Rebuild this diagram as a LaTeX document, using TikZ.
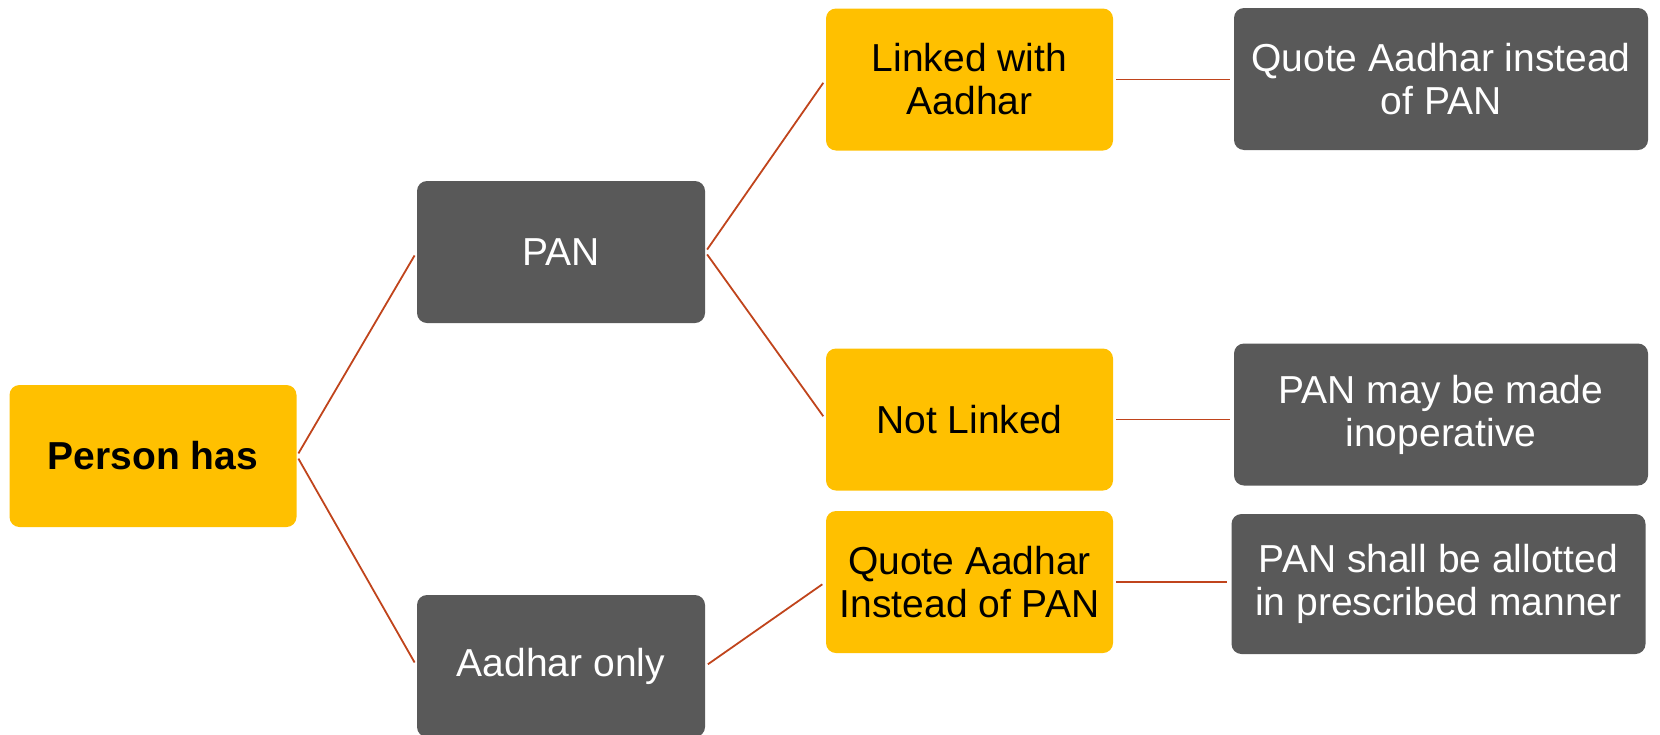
\documentclass[tikz,border=0pt]{standalone}
\usepackage{fontspec}
\setmainfont{Liberation Sans}
\definecolor{boxyellow}{HTML}{FFC000}
\definecolor{boxgray}{HTML}{595959}
\definecolor{linkred}{HTML}{C0441C}
\tikzset{
  base/.style={rounded corners=5pt, inner sep=0pt, align=center,
    font=\fontsize{19.5}{21.5}\selectfont, minimum height=71pt},
  ybox/.style={base, fill=boxyellow, text=black, minimum width=143.5pt},
  gbox/.style={base, fill=boxgray, text=white, minimum width=144pt},
  wbox/.style={base, fill=boxgray, text=white, minimum width=207pt},
  link/.style={draw=linkred, line width=0.9pt, shorten <=1.5pt, shorten >=2pt}
}
\begin{document}
\begin{tikzpicture}[x=0.5pt,y=-0.5pt]
\path[use as bounding box, clip] (0,0) rectangle (1660,734);
\node[ybox, font=\fontsize{19.5}{21.5}\selectfont\bfseries] (person) at (153,456) {Person has};
\node[gbox] (pan) at (561,252) {PAN};
\node[gbox] (aad) at (561,666) {Aadhar only};
\node[ybox] (linked) at (969.5,79.5) {Linked with\\Aadhar};
\node[ybox] (notl) at (969.5,419.5) {Not Linked};
\node[ybox] (quote) at (969.5,582) {Quote Aadhar\\Instead of PAN};
\node[wbox] (r1) at (1441,79) {Quote Aadhar instead\\of PAN};
\node[wbox] (r2) at (1441,414.5) {PAN may be made\\inoperative};
\node[wbox, minimum height=70pt] (r3) at (1438.5,584) {PAN shall be allotted\\in prescribed manner};
\draw[link] (person.east) -- (pan.west);
\draw[link] (person.east) -- (aad.west);
\draw[link] (pan.east) -- (linked.west);
\draw[link] (pan.east) -- (notl.west);
\draw[link] (aad.east) -- (quote.west);
\draw[link] (linked.east) -- (linked.east -| r1.west);
\draw[link] (notl.east) -- (notl.east -| r2.west);
\draw[link] (quote.east) -- (quote.east -| r3.west);
\end{tikzpicture}
\end{document}
